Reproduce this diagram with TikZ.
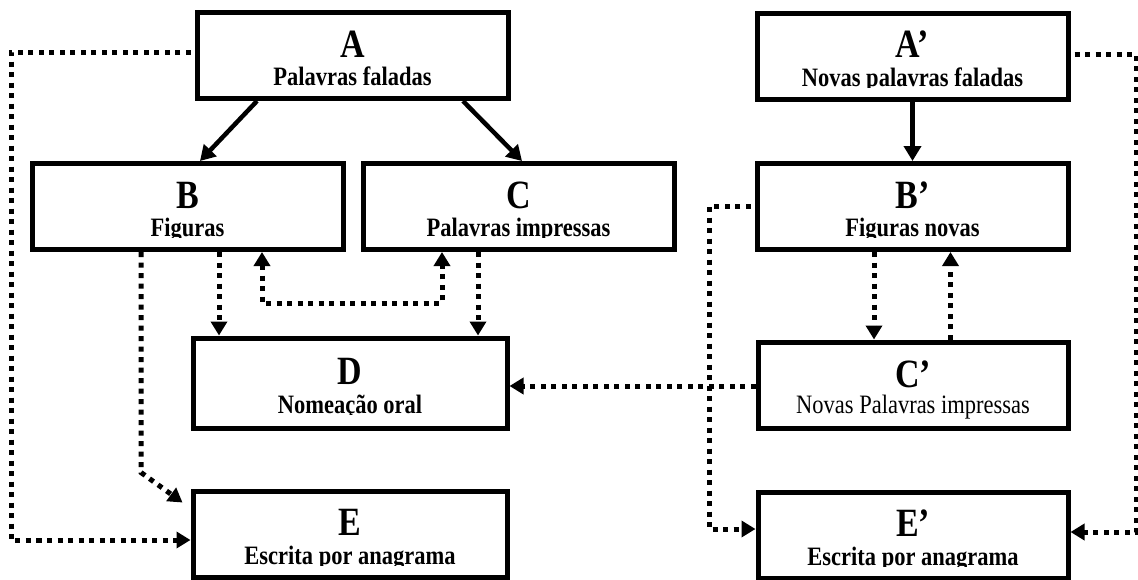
\documentclass[tikz,border=0pt]{standalone}
\usepackage{graphicx}
\usepackage{fontspec}
\setmainfont{Liberation Serif}
\usetikzlibrary{arrows.meta}
\newcommand{\vst}[1]{\scalebox{1}[1.18]{#1}}
\newcommand{\boxtext}[3]{%
  \node[ttl] at ([yshift=-1.5pt]#1.center) {\vst{#2}};
  \begin{scope}
    \clip ([yshift=20pt]#1.west) rectangle ([yshift=-31pt]#1.east);
    \node[sub] at ([yshift=-30pt]#1.center) {\vst{#3}};
  \end{scope}}
\begin{document}
\begin{tikzpicture}[x=1pt,y=-1pt,
  box/.style={draw, line width=5pt, minimum width=311pt, minimum height=86pt, inner sep=0pt},
  ttl/.style={font=\bfseries\fontsize{34}{34}\selectfont, inner sep=0pt, anchor=base},
  sub/.style={font=\bfseries\fontsize{22.5}{24}\selectfont, inner sep=0pt, anchor=base},
  subreg/.style={font=\fontsize{22.5}{24}\selectfont, inner sep=0pt, anchor=base},
  solidarr/.style={line width=4.5pt, -{Triangle[length=15pt,width=17pt]}},
  dotline/.style={line width=5pt, dash pattern=on 5pt off 5.5pt},
  dotarr/.style={dotline, -{Triangle[length=14pt,width=16pt]}},
  dotarrs/.style={dotline, {Triangle[length=14pt,width=16pt]}-{Triangle[length=14pt,width=16pt]}},
]
\useasboundingbox (0,0) rectangle (1138,579);

% boxes
\node[box] (A) at (352.5,55.5) {};
\node[box] (B) at (187.5,206.5) {};
\node[box] (C) at (518.5,206.5) {};
\node[box, minimum width=314pt, minimum height=90pt] (D) at (350,383) {};
\node[box, minimum width=314pt] (E) at (350,534) {};
\node[box] (A2) at (912.5,56) {};
\node[box] (B2) at (912.5,206.5) {};
\node[box, minimum width=310pt] (C2) at (913,385) {};
\node[box, minimum width=310pt] (E2) at (913,535) {};

% texts
\boxtext{A}{A}{Palavras faladas}
\boxtext{B}{B}{Figuras}
\boxtext{C}{C}{Palavras impressas}
\boxtext{D}{D}{Nomeação oral}
\boxtext{E}{E}{Escrita por anagrama}
\boxtext{A2}{A’}{Novas palavras faladas}
\boxtext{B2}{B’}{Figuras novas}
\node[ttl] at ([yshift=-2pt]C2.center) {\vst{C’}};
\node[subreg] at ([yshift=-28pt]C2.center) {\vst{Novas Palavras impressas}};
\boxtext{E2}{E’}{Escrita por anagrama}

% helper coordinates
\coordinate (L) at (11,540);
\coordinate (R) at (1136,532);
\coordinate (M) at (709,529);

% solid arrows
\draw[solidarr] ([xshift=-95.5pt]A.south) -- ([xshift=12.5pt]B.north);
\draw[solidarr] ([xshift=110.5pt]A.south) -- ([xshift=3.5pt]C.north);
\draw[solidarr] (A2.south) -- (B2.north);

% dotted connectors, left part
\draw[dotarr] ([xshift=-131pt]D.north |- B.south) -- ([xshift=-131pt]D.north);
\draw[dotarr] ([xshift=128pt]D.north |- C.south) -- ([xshift=128pt]D.north);
\draw[dotarrs] ([xshift=74.5pt]B.south) |- ([xshift=-76.5pt,yshift=-51pt]C.south) -- ([xshift=-76.5pt]C.south);
\draw[dotarr] ([xshift=-46.5pt]B.south) -- ++(0,220.5) -- ([xshift=-8pt,yshift=-14pt]E.north west);
\draw[dotarr] ([xshift=-4pt,yshift=3.5pt]A.west) -| (L) -- (L -| E.west);

% dotted connectors, right part
\draw[dotarr] ([xshift=4pt,yshift=2pt]A2.east) -| (R) -- (R -| E2.east);
\draw[dotarr] ([xshift=-4pt]B2.west) -| (M) -- (M -| E2.west);
\draw[dotarr] ([yshift=-1pt]C2.west) -- ([yshift=-1pt]C2.west -| D.east);
\draw[dotarr] ([xshift=-38.5pt]B2.south |- B2.south) -- ([xshift=-38.5pt]B2.south |- C2.north);
\draw[dotarr] ([xshift=37.5pt]C2.north) -- ([xshift=37.5pt]C2.north |- B2.south);
\end{tikzpicture}
\end{document}
